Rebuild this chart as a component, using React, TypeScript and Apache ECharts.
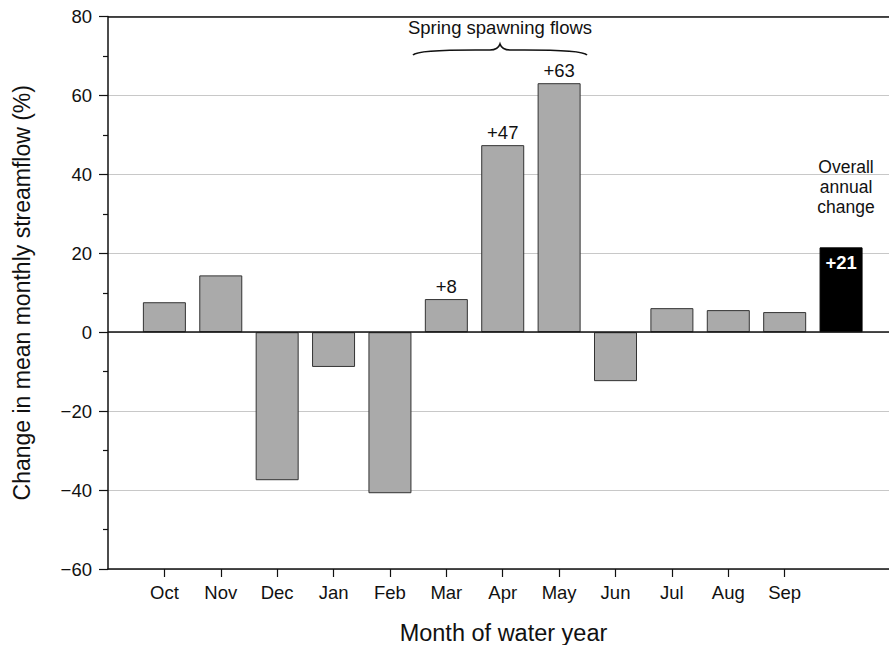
import React, { useEffect, useRef } from "react";
import * as echarts from "echarts";

const months = ["Oct", "Nov", "Dec", "Jan", "Feb", "Mar", "Apr", "May", "Jun", "Jul", "Aug", "Sep"];
const monthChange = [7.6, 14.4, -37.5, -8.8, -40.8, 8.4, 47.4, 63.1, -12.4, 6.1, 5.6, 5.1];
const monthLabels = ["", "", "", "", "", "+8", "+47", "+63", "", "", "", ""];
const annualChange = 21.5;
const annualLabel = "+21";
const yMin = -60;
const yMax = 80;
const yInterval = 20;

const FONT = "'Liberation Sans', Arial, Helvetica, sans-serif";
const INK = "#111";
const FS = 18.5;

const bracePath =
  "M413 55 C418 49 470 50 490 50 C496 50 499 47 500 44 C501 47 504 50 510 50 C530 50 582 49 587 55";
echarts.graphic.registerShape("brace", echarts.graphic.extendPath(bracePath, {}) as any);

export default function App() {
  const ref = useRef<HTMLDivElement>(null);
  useEffect(() => {
    if (!ref.current) return;
    document.body.style.margin = "0";
    document.body.style.overflow = "hidden";
    const chart = echarts.init(ref.current, null, { renderer: "svg" });
    const positions = months.map((_, i) => i + 1);
    const data: any[] = months.map((m, i) => ({
      value: [i + 1, monthChange[i]],
      label: {
        show: monthLabels[i] !== "",
        formatter: monthLabels[i],
        position: "top",
        distance: 3,
        color: INK,
        fontSize: FS,
        fontFamily: FONT,
      },
    }));
    data.push({
      value: [months.length + 1, annualChange],
      itemStyle: { color: "#000", borderColor: "#000" },
      label: {
        show: true,
        formatter: annualLabel,
        position: "insideTop",
        distance: 6,
        color: "#fff",
        fontWeight: "bold",
        fontSize: FS,
        fontFamily: FONT,
      },
    });

    chart.setOption({
      animation: false,
      textStyle: { fontFamily: FONT },
      grid: { left: 108, right: 0, top: 16.5, bottom: 76, containLabel: false, outerBoundsMode: "none" },
      xAxis: {
        type: "value",
        min: 0,
        max: 13.85,
        name: "Month of water year",
        nameLocation: "middle",
        nameGap: 52,
        nameTextStyle: { fontSize: 23.5, color: INK, fontFamily: FONT, padding: [0, 0, 0, 10] },
        axisLine: { onZero: false, lineStyle: { color: INK, width: 1.5 } },
        axisTick: { show: true, customValues: positions, length: 8, lineStyle: { color: INK, width: 1.2 } },
        axisLabel: {
          customValues: positions,
          formatter: (v: number) => months[Math.round(v) - 1] ?? "",
          fontSize: FS,
          color: INK,
          margin: 14,
          fontFamily: FONT,
        },
        splitLine: { show: false },
      },
      yAxis: {
        type: "value",
        min: yMin,
        max: yMax,
        interval: yInterval,
        name: "Change in mean monthly streamflow (%)",
        nameLocation: "middle",
        nameGap: 75,
        nameTextStyle: { fontSize: 23, color: INK, fontFamily: FONT },
        axisLine: { show: true, lineStyle: { color: INK, width: 1.5 } },
        axisTick: { show: true, length: 9, lineStyle: { color: INK, width: 1.2 } },
        minorTick: { show: true, splitNumber: 2, length: 5, lineStyle: { color: INK, width: 1.2 } },
        axisLabel: {
          fontSize: FS,
          color: INK,
          margin: 16,
          fontFamily: FONT,
          formatter: (v: number) => (v < 0 ? "\u2212" + Math.abs(v) : String(v)),
        },
        splitLine: { show: true, lineStyle: { color: "#c8c8c8", width: 1 } },
      },
      series: [
        {
          type: "bar",
          data,
          barWidth: 43,
          itemStyle: { color: "#aaaaaa", borderColor: "#333", borderWidth: 1 },
          markLine: {
            silent: true,
            symbol: ["none", "none"],
            label: { show: false },
            lineStyle: { color: INK, type: "solid", width: 1.5 },
            data: [{ yAxis: 0 }, { yAxis: yMax }],
          },
        },
      ],
      graphic: [
        {
          type: "text",
          x: 500,
          y: 18,
          style: {
            text: "Spring spawning flows",
            fontSize: FS,
            fill: INK,
            fontFamily: FONT,
            align: "center",
            verticalAlign: "top",
          },
          z: 10,
        },
        {
          type: "brace",
          x: 0,
          y: 0,
          style: { stroke: INK, fill: null, lineWidth: 1.6 },
          z: 10,
        },
        {
          type: "text",
          x: 846,
          y: 157,
          style: {
            text: "Overall\nannual\nchange",
            fontSize: 17.5,
            lineHeight: 20,
            fill: INK,
            fontFamily: FONT,
            align: "center",
            verticalAlign: "top",
          },
          z: 10,
        },
      ],
    });
    return () => chart.dispose();
  }, []);
  return <div ref={ref} style={{ width: 889, height: 645, position: "absolute", left: 0, top: 0 }} />;
}
